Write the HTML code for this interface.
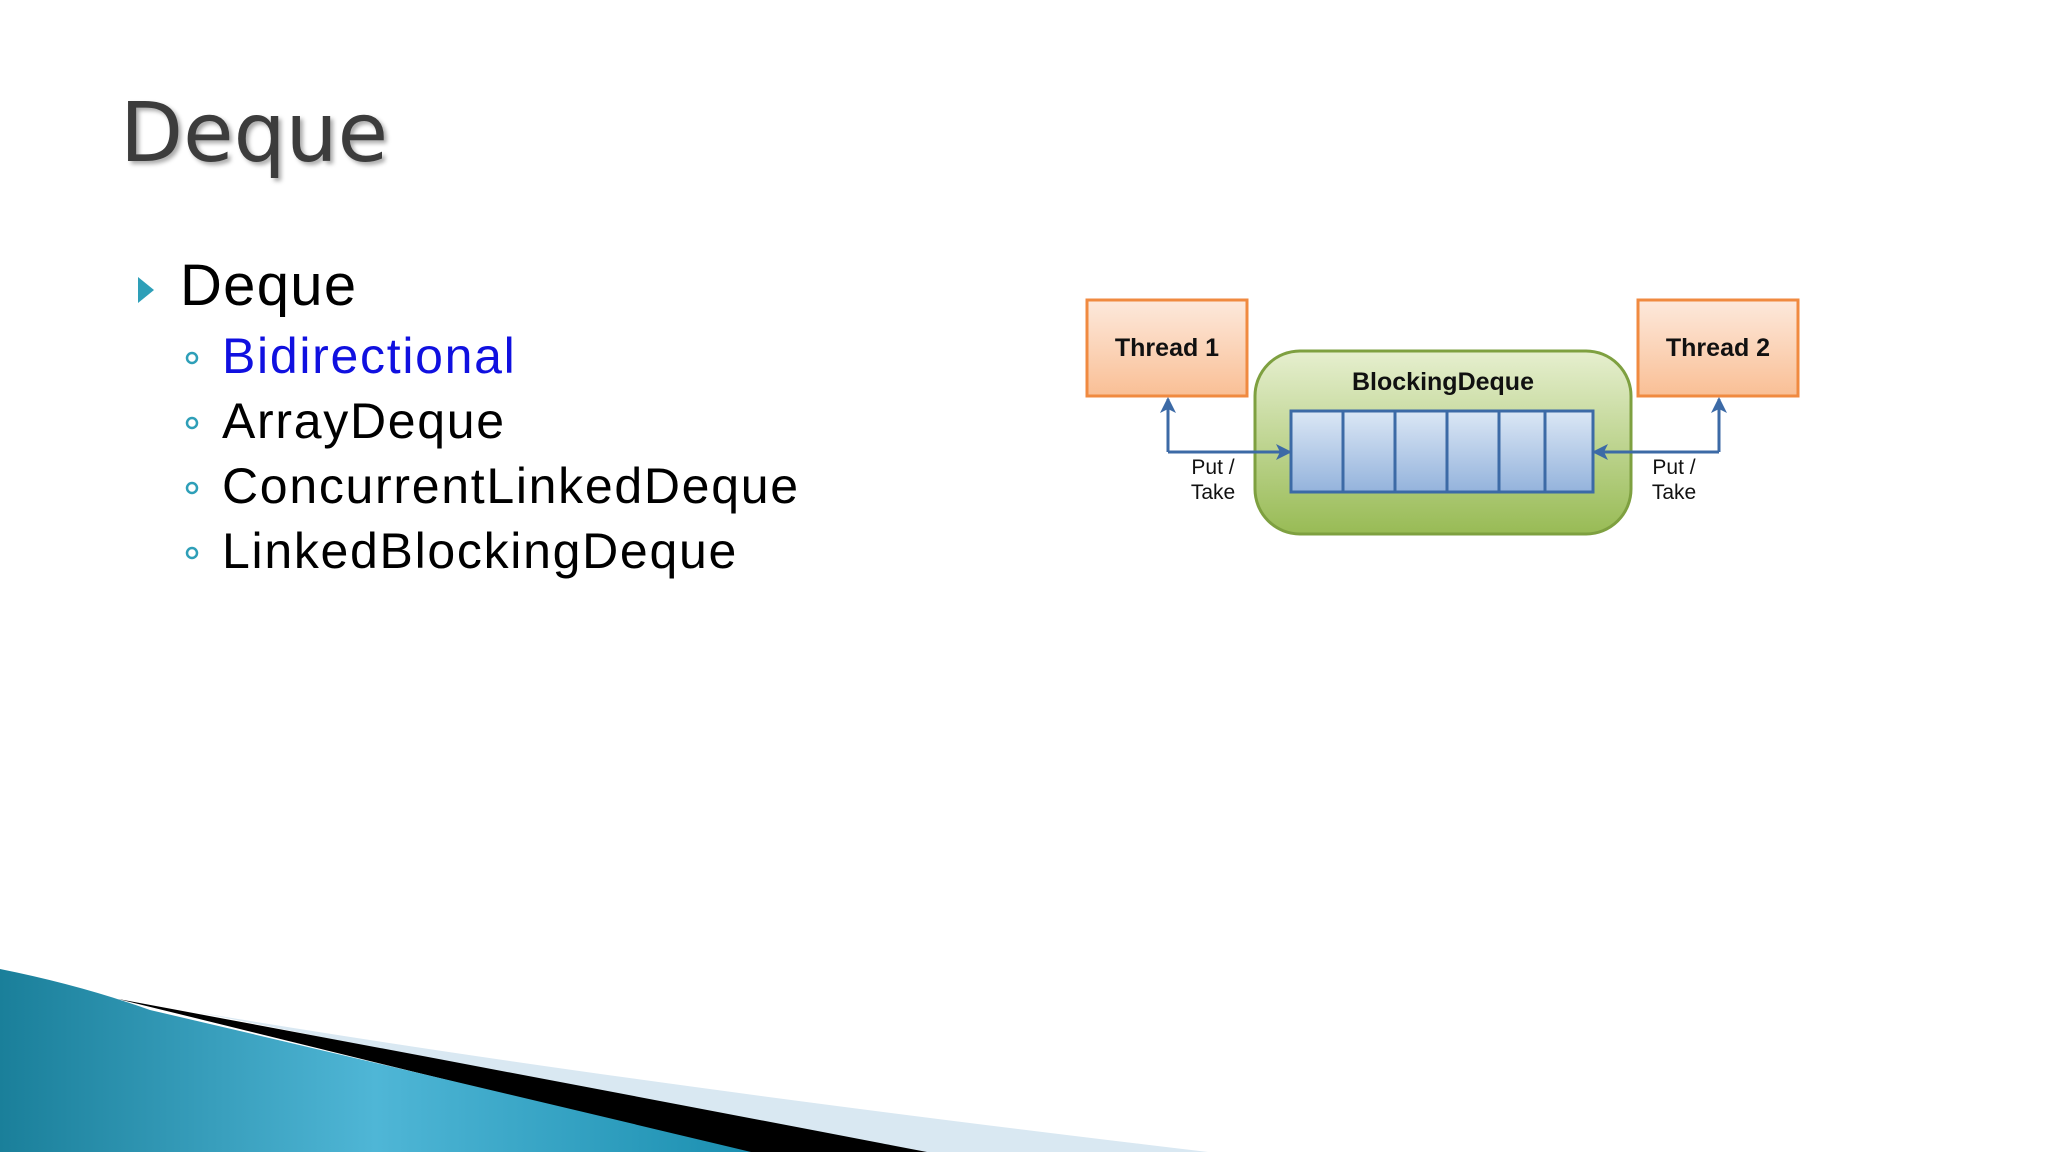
<!DOCTYPE html>
<html><head><meta charset="utf-8"><style>
body{margin:0;width:2048px;height:1152px;background:#fff;overflow:hidden;position:relative;font-family:"Liberation Sans",sans-serif}
.t{position:absolute;white-space:nowrap}
.s{font-size:50px;letter-spacing:1.7px}
</style></head><body>
<div class="t" style="left:120px;top:86px;font-size:82px;color:#3c3c3c;text-shadow:3px 3px 4px #aaa;font-family:'DejaVu Sans',sans-serif">Deque</div>
<svg style="position:absolute;left:0;top:0" width="2048" height="1152">
<defs>
<linearGradient id="b" x1="0" y1="0" x2="1" y2="0"><stop offset="0" stop-color="#1a7f9a"/><stop offset=".5" stop-color="#4fb6d6"/><stop offset="1" stop-color="#1b8fb0"/></linearGradient>
<linearGradient id="o" x1="0" y1="0" x2="0" y2="1"><stop offset="0" stop-color="#fde9dc"/><stop offset="1" stop-color="#f9bf95"/></linearGradient>
<linearGradient id="g" x1="0" y1="0" x2="0" y2="1"><stop offset="0" stop-color="#e6efcf"/><stop offset="1" stop-color="#98bb55"/></linearGradient>
<linearGradient id="c" x1="0" y1="0" x2="0" y2="1"><stop offset="0" stop-color="#dbe7f5"/><stop offset="1" stop-color="#94b3dc"/></linearGradient>
<marker id="a" markerWidth="16" markerHeight="16" refX="14" refY="8" orient="auto" markerUnits="userSpaceOnUse"><path d="M0,0 L16,8 L0,16 L4,8Z" fill="#3c6aa6"/></marker>
</defs>
<path d="M196,1012 Q600,1080 1208,1152 L900,1152 Z" fill="#d9e8f2"/>
<path d="M118,999 Q500,1070 927,1152 L740,1152 Z" fill="#000"/>
<path d="M0,969 Q80,985 150,1010 Q450,1080 751,1152 L0,1152 Z" fill="url(#b)"/>
<path d="M138,277 L154,290 L138,303 Z" fill="#2e9fb8"/>
<g fill="none" stroke="#2e9fb8" stroke-width="2.5"><circle cx="192" cy="358" r="5"/><circle cx="192" cy="423" r="5"/><circle cx="192" cy="488" r="5"/><circle cx="192" cy="553" r="5"/></g>
<rect x="1087" y="300" width="160" height="96" fill="url(#o)" stroke="#f08a40" stroke-width="3"/>
<rect x="1638" y="300" width="160" height="96" fill="url(#o)" stroke="#f08a40" stroke-width="3"/>
<rect x="1255" y="351" width="376" height="183" rx="45" fill="url(#g)" stroke="#7ea040" stroke-width="3"/>
<rect x="1291" y="411" width="302" height="81" fill="url(#c)" stroke="#3c6aa6" stroke-width="3"/>
<g stroke="#3c6aa6" stroke-width="3"><line x1="1343" y1="411" x2="1343" y2="492"/><line x1="1395" y1="411" x2="1395" y2="492"/><line x1="1447" y1="411" x2="1447" y2="492"/><line x1="1499" y1="411" x2="1499" y2="492"/><line x1="1545" y1="411" x2="1545" y2="492"/></g>
<g fill="none" stroke="#3c6aa6" stroke-width="3">
<path d="M1168,452 L1168,399" marker-end="url(#a)"/><path d="M1168,452 L1290,452" marker-end="url(#a)"/>
<path d="M1719,452 L1719,399" marker-end="url(#a)"/><path d="M1719,452 L1594,452" marker-end="url(#a)"/>
</g>
<g font-family="Liberation Sans,sans-serif" font-weight="bold" font-size="25" text-anchor="middle" fill="#111">
<text x="1167" y="356">Thread 1</text><text x="1718" y="356">Thread 2</text><text x="1443" y="390">BlockingDeque</text></g>
<g font-family="Liberation Sans,sans-serif" font-size="21" text-anchor="middle" fill="#111">
<text x="1213" y="474">Put /</text><text x="1213" y="499">Take</text><text x="1674" y="474">Put /</text><text x="1674" y="499">Take</text></g>
</svg>
<div class="t" style="left:180px;top:252px;font-size:58px;letter-spacing:1.3px;color:#000">Deque</div>
<div class="t s" style="left:222px;top:327px;color:#1010e0">Bidirectional</div>
<div class="t s" style="left:222px;top:392px">ArrayDeque</div>
<div class="t s" style="left:222px;top:457px">ConcurrentLinkedDeque</div>
<div class="t s" style="left:222px;top:522px">LinkedBlockingDeque</div>
</body></html>
